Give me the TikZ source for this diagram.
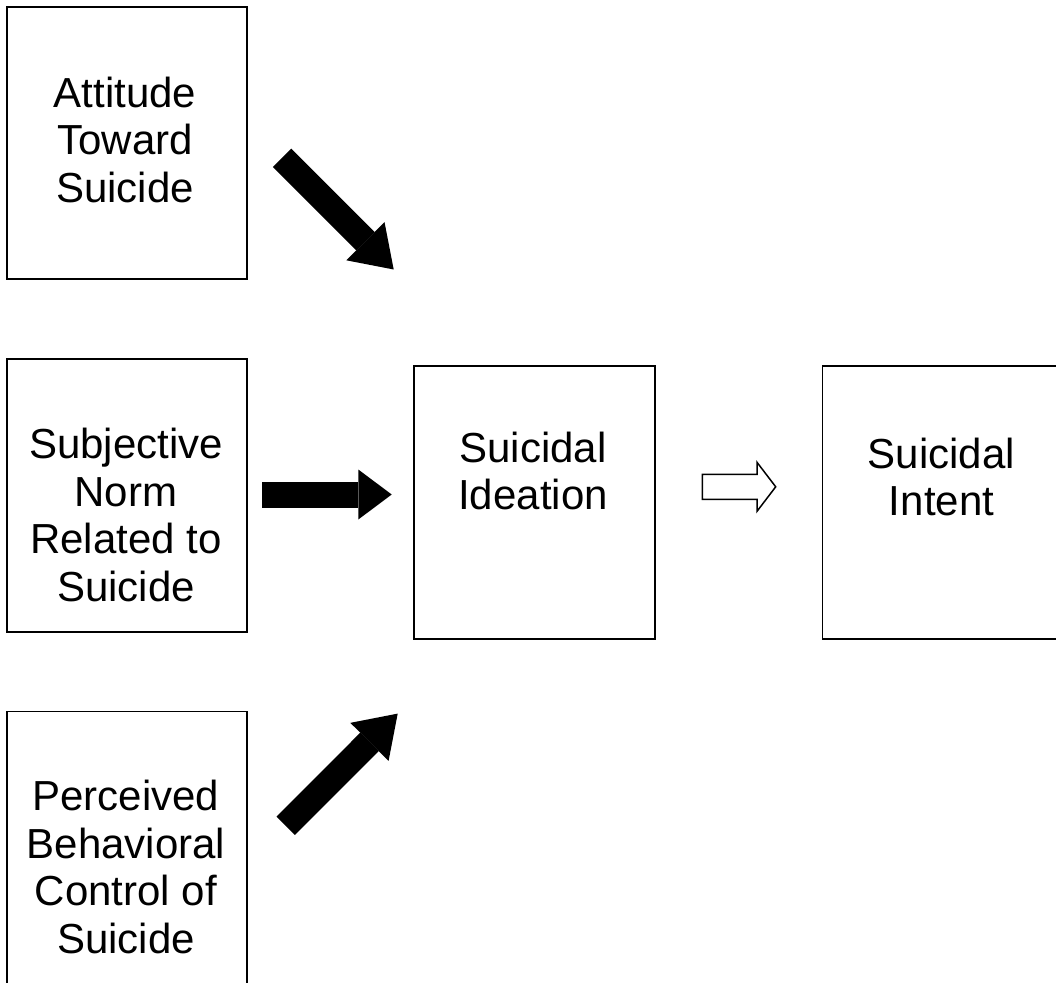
\documentclass[tikz,border=0pt]{standalone}
\usepackage{fontspec}
\setmainfont{Liberation Sans}
\usetikzlibrary{arrows.meta}
\begin{document}
\begin{tikzpicture}[x=1pt,y=-1pt,
  box/.style={draw=black, line width=1.6pt, rectangle, inner sep=0pt, outer sep=0pt, anchor=north west},
  lbl/.style={anchor=north, inner sep=0pt, align=center, font=\fontsize{42pt}{47.5pt}\selectfont},
  fatarrow/.style={line width=26pt, line cap=butt, -{Triangle[width=54pt,length=40pt,line width=0pt]}},
  hollow/.style={draw=black, fill=white, line width=1.5pt, line join=miter}]
\useasboundingbox (0,0) rectangle (1056,982);
\clip (0,0) rectangle (1056,982);
% boxes
\node[box, minimum width=240pt, minimum height=272pt] (b1) at (7,7) {};
\node[box, minimum width=240pt, minimum height=273pt] (b2) at (7,359) {};
\node[box, minimum width=240pt, minimum height=273pt] (b3) at (7,711.5) {};
\node[box, minimum width=241pt, minimum height=273pt] (mid) at (414,366) {};
\node[box, minimum width=239pt, minimum height=273pt] (rgt) at (822.5,366) {};
% labels
\node[lbl] (t1) at (125,76.5) {Attitude\\Toward\\Suicide};
\node[lbl] (t2) at (126,428) {Subjective\\Norm\\Related to\\Suicide};
\node[lbl] (t3) at (126,780) {Perceived\\Behavioral\\Control of\\Suicide};
\node[lbl] (tm) at (533,431.5) {Suicidal\\Ideation};
\node[lbl] (tr) at (941.5,437.5) {Suicidal\\Intent};
% black arrows
\coordinate (a1s) at (282,157.8);
\coordinate (a1e) at (393.7,269.5);
\coordinate (a2s) at (262.3,494.5);
\coordinate (a2e) at (391.7,494.5);
\coordinate (a3s) at (285.7,825.8);
\coordinate (a3e) at (397.7,713.6);
\draw[fatarrow] (a1s) -- (a1e);
\draw[fatarrow, line width=26pt, -{Triangle[width=50pt,length=33.4pt,line width=0pt]}] (a2s) -- (a2e);
\draw[fatarrow] (a3s) -- (a3e);
% hollow arrow
\coordinate (ha) at (702.3,486.8);
\draw[hollow] (ha) ++(0,-12.5) -- ++(54.7,0) -- ++(0,-12) -- ++(18.7,24.5) -- ++(-18.7,24.5) -- ++(0,-12) -- ++(-54.7,0) -- cycle;
\end{tikzpicture}
\end{document}
